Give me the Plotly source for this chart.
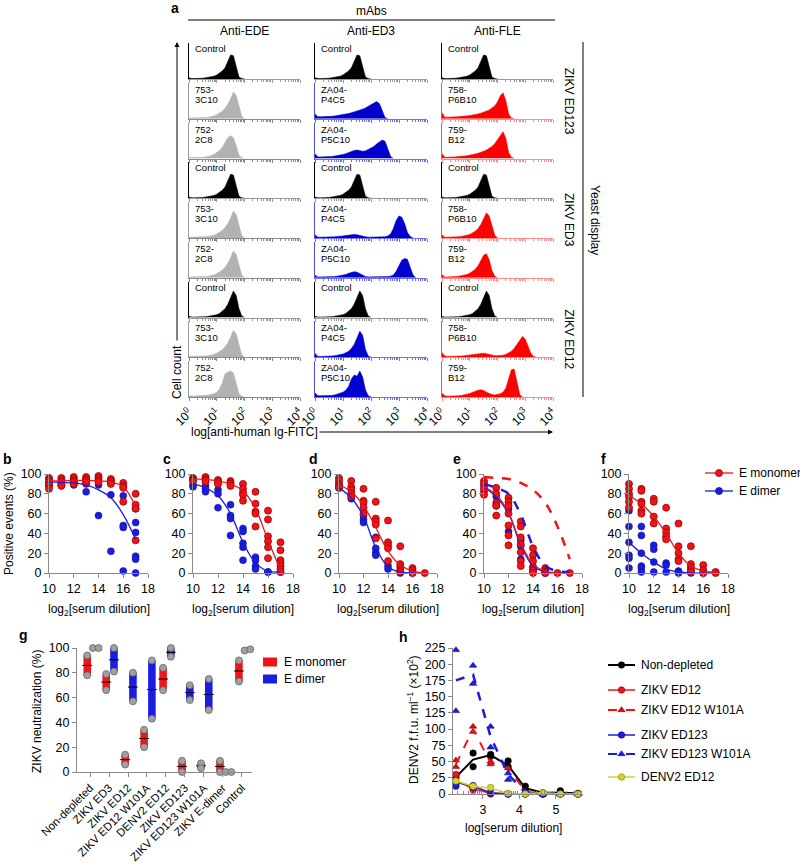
import math
import plotly.graph_objects as go

# ── canvas ────────────────────────────────────────────────────────────────────
W, H = 800, 866
FONT = "Liberation Sans, Arial, Helvetica, sans-serif"
AX = "#8a8a8a"
BASE_SIZE = 12

RED, RED_EDGE = "#f01418", "#9a0000"
BLUE, BLUE_EDGE = "#1c1ce0", "#0c0c90"
YELLOW, YELLOW_EDGE = "#d2d22a", "#8a8a00"

# ── panel a: flow histograms (log10 bins 0.0 .. 4.0) ─────────────────────────
LOG_BINS = [0.0, 0.1, 0.2, 0.3, 0.4, 0.5, 0.6, 0.7, 0.8, 0.9,
            1.0, 1.1, 1.2, 1.3, 1.4, 1.5, 1.6, 1.7, 1.8, 1.9,
            2.0, 2.1, 2.2, 2.3, 2.4, 2.5, 2.6, 2.7, 2.8, 2.9,
            3.0, 3.1, 3.2, 3.3, 3.4, 3.5, 3.6, 3.7, 3.8, 3.9, 4.0]

CTRL_A = [0.03, 0.01, 0.01, 0.01, 0.02, 0.02, 0.03, 0.04, 0.05, 0.07,
          0.10, 0.14, 0.20, 0.28, 0.42, 0.60, 0.58, 0.30, 0.05, 0.01, 0]
CTRL_B = [0.03, 0.01, 0.01, 0.01, 0.01, 0.02, 0.02, 0.03, 0.04, 0.05,
          0.07, 0.10, 0.15, 0.22, 0.33, 0.50, 0.66, 0.55, 0.22, 0.04, 0]
GRAY_3C10 = [0.02, 0.02, 0.02, 0.02, 0.02, 0.03, 0.03, 0.04, 0.05, 0.07,
             0.10, 0.14, 0.19, 0.26, 0.36, 0.50, 0.67, 0.58, 0.28, 0.06, 0]
GRAY_2C8 = [0.02, 0.02, 0.02, 0.02, 0.03, 0.03, 0.04, 0.05, 0.07, 0.10,
            0.14, 0.20, 0.28, 0.40, 0.52, 0.57, 0.52, 0.32, 0.08, 0.02, 0]
GRAY_2C8_B = [0.03, 0.02, 0.02, 0.03, 0.03, 0.03, 0.04, 0.05, 0.06, 0.08,
              0.12, 0.20, 0.35, 0.58, 0.62, 0.65, 0.60, 0.35, 0.08, 0.02, 0]

BLUE_ED123_P4C5 = [0.12, 0.05, 0.05, 0.05, 0.05, 0.06, 0.06, 0.07, 0.08, 0.09,
                   0.10, 0.11, 0.13, 0.15, 0.17, 0.19, 0.21, 0.24, 0.27, 0.31,
                   0.35, 0.39, 0.43, 0.38, 0.18, 0.03, 0]
BLUE_ED123_P5C10 = [0.12, 0.04, 0.04, 0.04, 0.04, 0.05, 0.05, 0.06, 0.07, 0.08,
                    0.10, 0.12, 0.15, 0.18, 0.20, 0.21, 0.19, 0.18, 0.19, 0.22,
                    0.26, 0.30, 0.36, 0.42, 0.46, 0.43, 0.22, 0.05, 0]
RED_ED123_P6B10 = [0.15, 0.04, 0.04, 0.04, 0.05, 0.05, 0.05, 0.06, 0.06, 0.07,
                   0.08, 0.09, 0.10, 0.12, 0.14, 0.16, 0.19, 0.22, 0.26, 0.32,
                   0.42, 0.57, 0.65, 0.45, 0.12, 0.02, 0]
RED_ED123_B12 = [0.12, 0.03, 0.03, 0.03, 0.04, 0.04, 0.05, 0.05, 0.06, 0.07,
                 0.08, 0.09, 0.11, 0.13, 0.15, 0.18, 0.21, 0.25, 0.30, 0.37,
                 0.47, 0.60, 0.67, 0.50, 0.15, 0.03, 0]

BLUE_ED3_P4C5 = [0.08, 0.02, 0.02, 0.02, 0.02, 0.02, 0.03, 0.03, 0.04, 0.04,
                 0.05, 0.06, 0.07, 0.08, 0.09, 0.08, 0.06, 0.04, 0.03, 0.02,
                 0.02, 0.02, 0.02, 0.02, 0.02, 0.03, 0.05, 0.10, 0.24, 0.44,
                 0.55, 0.52, 0.36, 0.14, 0.04, 0]
BLUE_ED3_P5C10 = [0.06, 0.02, 0.02, 0.02, 0.02, 0.02, 0.03, 0.03, 0.04, 0.05,
                  0.06, 0.08, 0.11, 0.13, 0.15, 0.14, 0.10, 0.06, 0.03, 0.02,
                  0.02, 0.02, 0.02, 0.02, 0.02, 0.02, 0.03, 0.04, 0.07, 0.16,
                  0.32, 0.44, 0.48, 0.46, 0.26, 0.07, 0]
RED_ED3_P6B10 = [0.08, 0.02, 0.02, 0.02, 0.03, 0.03, 0.03, 0.04, 0.05, 0.07,
                 0.09, 0.12, 0.17, 0.24, 0.34, 0.48, 0.63, 0.55, 0.30, 0.07, 0]
RED_ED3_B12 = [0.08, 0.02, 0.02, 0.02, 0.03, 0.03, 0.04, 0.05, 0.06, 0.08,
               0.11, 0.15, 0.21, 0.30, 0.42, 0.56, 0.60, 0.45, 0.18, 0.04, 0]

BLUE_ED12_P4C5 = [0.10, 0.02, 0.02, 0.02, 0.02, 0.03, 0.03, 0.04, 0.05, 0.06,
                  0.08, 0.11, 0.15, 0.22, 0.32, 0.48, 0.65, 0.55, 0.20, 0.03, 0]
BLUE_ED12_P5C10 = [0.10, 0.03, 0.03, 0.03, 0.03, 0.04, 0.04, 0.05, 0.07, 0.09,
                   0.12, 0.17, 0.26, 0.45, 0.55, 0.52, 0.65, 0.50, 0.18, 0.03, 0]
RED_ED12_P6B10 = [0.12, 0.03, 0.02, 0.02, 0.02, 0.02, 0.03, 0.03, 0.04, 0.05,
                  0.06, 0.07, 0.08, 0.09, 0.10, 0.10, 0.09, 0.07, 0.05, 0.04,
                  0.04, 0.04, 0.05, 0.07, 0.10, 0.15, 0.22, 0.32, 0.44, 0.52,
                  0.45, 0.28, 0.10, 0.02, 0]
RED_ED12_B12 = [0.10, 0.03, 0.02, 0.02, 0.02, 0.03, 0.03, 0.04, 0.05, 0.07,
                0.09, 0.12, 0.15, 0.17, 0.18, 0.16, 0.12, 0.08, 0.06, 0.05,
                0.06, 0.08, 0.12, 0.22, 0.45, 0.68, 0.70, 0.35, 0.06, 0]

HIST_GRID = [
    [CTRL_A, CTRL_A, CTRL_A],
    [GRAY_3C10, BLUE_ED123_P4C5, RED_ED123_P6B10],
    [GRAY_2C8, BLUE_ED123_P5C10, RED_ED123_B12],
    [CTRL_A, CTRL_A, CTRL_A],
    [GRAY_3C10, BLUE_ED3_P4C5, RED_ED3_P6B10],
    [GRAY_3C10, BLUE_ED3_P5C10, RED_ED3_B12],
    [CTRL_B, CTRL_B, CTRL_B],
    [GRAY_3C10, BLUE_ED12_P4C5, RED_ED12_P6B10],
    [GRAY_2C8_B, BLUE_ED12_P5C10, RED_ED12_B12],
]
COL_HEADERS = ["Anti-EDE", "Anti-ED3", "Anti-FLE"]
MAB_LABELS = [
    ["Control", "Control", "Control"],
    ["753-|3C10", "ZA04-|P4C5", "758-|P6B10"],
    ["752-|2C8", "ZA04-|P5C10", "759-|B12"],
]
COL_KINDS = ["gray", "blue", "red"]
GROUP_LABELS = ["ZIKV ED123", "ZIKV ED3", "ZIKV ED12"]
DECADE_LABELS = ["10<sup>0</sup>", "10<sup>1</sup>", "10<sup>2</sup>",
                 "10<sup>3</sup>", "10<sup>4</sup>"]

# ── panels b–f: % positive events vs log2 serum dilution ─────────────────────
DILUTION = [10, 11, 12, 13, 14, 15, 16, 17]

B_RED = [[96, 94, 92, 89, 85], [96, 94, 92, 89, 88], [97, 95, 93, 92, 90],
         [97, 95, 93, 91], [98, 96, 94, 92], [95, 93, 91, 90],
         [91, 88, 86, 72], [80, 69, 65, 33]]
B_BLUE = [[90, 88], [91, 89], [91, 89], [90, 82], [89, 58], [79, 22],
          [78, 48, 46, 2], [65, 51, 41, 17, 14, 0]]
B_RED_FIT = [93, 93, 93.5, 93.5, 93, 92, 87, 67]
B_BLUE_FIT = [92, 91.5, 91, 89, 84, 76, 59, 34]

C_RED = [[96, 95, 94, 93], [97, 95, 94, 92], [94, 92, 90], [93, 91, 90, 88],
         [90, 85, 81, 79, 73], [82, 70, 62, 60, 47], [63, 54, 37, 32, 26, 15],
         [31, 23, 13, 10, 7, 4, 1]]
C_BLUE = [[89, 87], [88, 85, 82], [84, 80, 66], [69, 58, 55, 38],
          [45, 42, 30, 26, 13], [16, 13, 7, 4], [1, 1], [1]]
C_RED_FIT = [95, 94.5, 93, 90, 83, 65, 33, 3]
C_BLUE_FIT = [90, 86, 78, 60, 31, 10, 2, 1]

D_RED = [[96, 93, 90, 88, 86], [93, 87, 84, 80, 77], [85, 73, 71, 66, 60],
         [72, 55, 52, 49, 35], [53, 31, 28, 25, 12], [27, 9, 6, 3, 1],
         [5, 3, 0], [0]]
D_BLUE = [[88, 86], [78, 75], [58, 54, 51], [36, 25, 21, 18], [7, 4], [0],
          [0], []]
D_RED_FIT = [89, 82, 68, 46, 22, 8, 2, 0]
D_BLUE_FIT = [86, 76, 57, 26, 6, 1, 0, 0]

E_RED = [[93, 90, 85, 79], [86, 80, 71, 68, 58], [76, 72, 68, 60, 48, 38, 28],
         [52, 47, 36, 29, 21, 12, 7], [25, 18, 12, 6, 3, 0], [5, 3, 1, 0],
         [0], [0]]
E_BLUE = [[88, 82], [77, 68], [65, 42], [33, 27, 14], [6, 2], [0], [], []]
E_RED_FIT = [87, 79, 61, 30, 9, 2, 0, 0]
E_BLUE_FIT = [87, 77, 60, 28, 7, 1, 0, 0]
E_RED_DASH = [97, 96, 95, 91, 84, 71, 47, 14]
E_BLUE_DASH = [90, 86, 80, 59, 27, 7, 2, 1]

F_RED = [[90, 85, 80, 77, 72, 66], [85, 83, 72, 70, 63, 60], [75, 72, 57, 50],
         [66, 45, 41, 37, 34], [50, 27, 20, 14, 12], [27, 9, 6, 3, 1],
         [8, 3, 0], [1, 0]]
F_BLUE = [[63, 47, 31, 18, 15, 5], [47, 38, 20, 7, 5, 1], [28, 24, 11, 1],
          [10, 8, 1], [2, 1, 0], [0], [0], []]
F_RED_FIT = [78, 70, 57, 40, 20, 7, 2, 1]
F_BLUE_FIT = [31, 20, 11, 4, 1, 0, 0, 0]

# ── panel g: ZIKV neutralization after depletion ─────────────────────────────
G_CATS = ["Non-depleted", "ZIKV ED3", "ZIKV ED12", "ZIKV ED12 W101A",
          "DENV2 ED12", "ZIKV ED123", "ZIKV ED123 W101A", "ZIKV E-dimer",
          "Control"]
G_MONO_HI = [94, 79, 14, 34, 84, 9, 7, 9, 90]
G_MONO_LO = [78, 66, 6, 20, 66, 0, 3, 0, 73]
G_MONO_MEAN = [86, 72.5, 10, 27, 75, 4.5, 5, 4.5, 81.5]
G_DIM_HI = [100, 100, 80, 90, 100, 70, 75, 0, 99]
G_DIM_LO = [100, 81, 57, 43, 93, 58, 50, 0, 98]
G_DIM_MEAN = [100, 90.5, 68.5, 66.5, 96.5, 64, 62.5, 0, 98.5]
G_DIM_BAR = [False, True, True, True, True, True, True, False, False]

# ── panel h: DENV2 foci vs log serum dilution ────────────────────────────────
H_X = [2.26, 2.73, 3.21, 3.69, 4.16, 4.64, 5.12, 5.60]
ND_MEAN = [26, 53, 60, 44, 9, 2, 2, 1]
ND_REP_A = [25, 63, 61, 51, 12, 2, 5, 1]
ND_REP_B = [28, 42, 58, 42, 6, 1, 2, 0]
ED12_MEAN = [21, 8, 1, 0, 0, 0, 0, 0]
ED12_REP_A = [30, 6, 1, 0, 0, 0, 0, 0]
ED12_REP_B = [15, 9, 0, 0, 0, 0, 0, 0]
ED12W_MEAN = [46, 100, 48, 40, 4, 0, 0, 0]
ED12W_REP_A = [52, 104, 50, 40, 3, 0, 0, 0]
ED12W_REP_B = [42, 96, 46, None, 4, 0, None, None]
ED123_MEAN = [18, 12, 2, 0, 0, 0, 0, 0]
ED123_REP_A = [18, 13, 3, 0, 0, 0, 0, 0]
ED123_REP_B = [12, 10, 1, 0, 0, 0, 0, 0]
ED123W_MEAN = [175, 184, 88, 30, 3, 0, 0, 0]
ED123W_REP_A = [222, 198, 104, 32, 3, 0, 0, 0]
ED123W_REP_B = [128, 170, 72, 22, 2, 0, 0, 0]
DENV_MEAN = [20, 12, 9, 1, 0, 2, 0, 0]
DENV_REP = [20, 12, 10, 1, 0, 2, 0, 0]


# ─────────────────────────────────────────────────────────────────────────────
# helpers
# ─────────────────────────────────────────────────────────────────────────────
fig = go.Figure()
axes_layout = {}
annotations = []
shapes = []
_n_axes = [0]


def px_x(x):
    return x / W


def px_y(y):
    return 1 - y / H


def add_axes(x0, x1, y_top, y_bot, xa, ya):
    _n_axes[0] += 1
    s = "" if _n_axes[0] == 1 else str(_n_axes[0])
    axes_layout["xaxis" + s] = dict(domain=[px_x(x0), px_x(x1)], anchor="y" + s,
                                    automargin=False, **xa)
    axes_layout["yaxis" + s] = dict(domain=[px_y(y_bot), px_y(y_top)], anchor="x" + s,
                                    automargin=False, **ya)
    return "x" + s, "y" + s


def text(x, y, s, size=BASE_SIZE, xanchor="center", angle=0, bold=False, color="black"):
    annotations.append(dict(
        x=px_x(x), y=px_y(y), xref="paper", yref="paper", text=s,
        showarrow=False, xanchor=xanchor, yanchor="middle", textangle=angle,
        font=dict(family=FONT, size=size, color=color,
                  weight="bold" if bold else "normal")))


def line(x0, y0, x1, y1, color="black", width=1):
    shapes.append(dict(type="line", xref="paper", yref="paper",
                       x0=px_x(x0), y0=px_y(y0), x1=px_x(x1), y1=px_y(y1),
                       line=dict(color=color, width=width)))


def arrow(x, y, ax, ay):
    annotations.append(dict(x=px_x(x), y=px_y(y), xref="paper", yref="paper",
                            ax=ax, ay=ay, text="", showarrow=True, arrowhead=2,
                            arrowsize=1, arrowwidth=1, arrowcolor="black"))


# ─────────────────────────────────────────────────────────────────────────────
# panel a
# ─────────────────────────────────────────────────────────────────────────────
HIST_COLS = [(189, 300), (315, 427), (442, 553)]
ROW_BASE0, ROW_STEP = 79, 39.75
KIND_STYLE = {"ctrl": ("#000000", "#9a9a9a", "#000000"),
              "gray": ("#b2b2b2", "#8a8a8a", "#9a9a9a"),
              "blue": ("#0000cc", "#7070ee", "#5050e0"),
              "red": ("#ff0000", "#ff8c8c", "#ff5050")}
MINOR_TICKS = [d + math.log10(k) for d in range(4) for k in range(2, 10)]

for r, row in enumerate(HIST_GRID):
    base = ROW_BASE0 + r * ROW_STEP
    bottom = r == len(HIST_GRID) - 1
    for c, vals in enumerate(row):
        kind = "ctrl" if r % 3 == 0 else COL_KINDS[c]
        fill_c, base_c, left_c = KIND_STYLE[kind]
        x0, x1 = HIST_COLS[c]
        xa = dict(range=[0, 4], showgrid=False, zeroline=False, showline=True,
                  linecolor=base_c, linewidth=1, tickvals=[0, 1, 2, 3, 4],
                  ticktext=DECADE_LABELS, ticks="outside", ticklen=3,
                  tickcolor=base_c, showticklabels=bottom, tickangle=-45,
                  tickfont=dict(family=FONT, size=12, color="black"),
                  minor=dict(tickmode="array", tickvals=MINOR_TICKS,
                             ticks="outside", ticklen=2, tickcolor=base_c))
        ya = dict(range=[0, 0.9], showgrid=False, zeroline=False,
                  showline=True, linecolor=left_c, linewidth=1,
                  showticklabels=False, ticks="")
        xr, yr = add_axes(x0, x1, base - 36, base, xa, ya)
        fig.add_trace(go.Scatter(
            x=LOG_BINS[:len(vals)], y=vals, mode="lines", fill="tozeroy",
            line=dict(color=fill_c, width=0.6), fillcolor=fill_c,
            xaxis=xr, yaxis=yr, showlegend=False, hoverinfo="skip"))

        label = MAB_LABELS[r % 3][c]
        if "|" in label:
            first, second = label.split("|")
            text(x0 + 4, base - 29.5, first, size=9.5, xanchor="left")
            text(x0 + 4, base - 19.5, second, size=9.5, xanchor="left")
        else:
            text(x0 + 4, base - 30.5, label, size=9.5, xanchor="left")

text(175, 8, "a", size=14, bold=True)
text(371, 11, "mAbs")
line(188, 20, 555, 20)
for c, head in enumerate(COL_HEADERS):
    text((HIST_COLS[c][0] + HIST_COLS[c][1]) / 2, 31, head)
for g, lab in enumerate(GROUP_LABELS):
    text(569, ROW_BASE0 + (3 * g + 1) * ROW_STEP - 18, lab, angle=90)
line(583, 42, 583, 397)
text(595, 220, "Yeast display", angle=90)
arrow(177, 42, 0, 300)
text(177, 372, "Cell count", angle=-90)
text(189, 432, "log[anti-human Ig-FITC]", xanchor="left")
arrow(553, 432, -235, 0)

# ─────────────────────────────────────────────────────────────────────────────
# panels b–f
# ─────────────────────────────────────────────────────────────────────────────
CURVE_PANELS = [
    ("b", 49, 148, 7, B_RED, B_BLUE, B_RED_FIT, B_BLUE_FIT, None, None),
    ("c", 193, 293, 167, C_RED, C_BLUE, C_RED_FIT, C_BLUE_FIT, None, None),
    ("d", 339, 437, 313, D_RED, D_BLUE, D_RED_FIT, D_BLUE_FIT, None, None),
    ("e", 484, 582, 457, E_RED, E_BLUE, E_RED_FIT, E_BLUE_FIT, E_RED_DASH, E_BLUE_DASH),
    ("f", 629, 728, 603, F_RED, F_BLUE, F_RED_FIT, F_BLUE_FIT, None, None),
]
TICKFONT = dict(family=FONT, size=12.5, color="black")


def std_axis(**kw):
    d = dict(showgrid=False, zeroline=False, showline=True, linecolor=AX,
             linewidth=1, ticks="outside", ticklen=4, tickcolor=AX,
             tickfont=TICKFONT)
    d.update(kw)
    return d


def flatten(groups):
    xs, ys = [], []
    for xv, vals in zip(DILUTION, groups):
        for v in vals:
            xs.append(xv)
            ys.append(v)
    return xs, ys


for (letter, x0, x1, lx, reds, blues, red_fit, blue_fit,
     red_dash, blue_dash) in CURVE_PANELS:
    xr, yr = add_axes(
        x0, x1, 474, 573,
        std_axis(range=[10, 18], tickvals=[10, 12, 14, 16, 18]),
        std_axis(range=[0, 100], tickvals=[0, 20, 40, 60, 80, 100]))
    bx, by = flatten(blues)
    rx, ry = flatten(reds)
    fig.add_trace(go.Scatter(x=bx, y=by, mode="markers", xaxis=xr, yaxis=yr,
                             marker=dict(size=7, color=BLUE,
                                         line=dict(color=BLUE_EDGE, width=0.5)),
                             cliponaxis=False, showlegend=False))
    fig.add_trace(go.Scatter(x=rx, y=ry, mode="markers", xaxis=xr, yaxis=yr,
                             marker=dict(size=7, color=RED,
                                         line=dict(color=RED_EDGE, width=0.8)),
                             cliponaxis=False, showlegend=False))
    fits = [(blue_fit, BLUE, "solid", 1.3), (red_fit, RED, "solid", 1.3)]
    if blue_dash:
        fits += [(blue_dash, BLUE, "dash", 2.5), (red_dash, RED, "dash", 2.5)]
    for vals, col, dash, wd in fits:
        fig.add_trace(go.Scatter(x=DILUTION, y=vals, mode="lines", xaxis=xr,
                                 yaxis=yr, line=dict(color=col, width=wd,
                                                     dash=dash, shape="spline"),
                                 cliponaxis=False, showlegend=False))
    text(lx, 459, letter, size=14, bold=True)
    text((x0 + x1) / 2, 610, "log<sub>2</sub>[serum dilution]")

text(9, 524, "Positive events (%)", angle=-90)

# ─────────────────────────────────────────────────────────────────────────────
# panel g
# ─────────────────────────────────────────────────────────────────────────────
G_RED_OFF, G_BLUE_OFF, G_BAR_W = -0.15, 0.26, 0.4
G_DOT_OFFS = [0.15, 0.45]
xr, yr = add_axes(
    77, 252, 648, 772,
    std_axis(range=[-0.69, 8.54], tickvals=list(range(len(G_CATS))),
             ticktext=G_CATS, tickangle=-45,
             tickfont=dict(family=FONT, size=11.3, color="black")),
    std_axis(range=[0, 100], tickvals=[0, 20, 40, 60, 80, 100]))

idx = list(range(len(G_CATS)))
mono_x = [i + G_RED_OFF for i in idx]
fig.add_trace(go.Bar(x=mono_x, y=[h - l for h, l in zip(G_MONO_HI, G_MONO_LO)],
                     base=G_MONO_LO, width=G_BAR_W, marker=dict(color=RED, line_width=0),
                     xaxis=xr, yaxis=yr, showlegend=False))
bar_i = [i for i in idx if G_DIM_BAR[i]]
dim_x = [i + G_BLUE_OFF for i in bar_i]
fig.add_trace(go.Bar(x=dim_x, y=[G_DIM_HI[i] - G_DIM_LO[i] for i in bar_i],
                     base=[G_DIM_LO[i] for i in bar_i], width=G_BAR_W,
                     marker=dict(color=BLUE, line_width=0),
                     xaxis=xr, yaxis=yr, showlegend=False))
fig.add_trace(go.Scatter(x=mono_x + dim_x,
                         y=G_MONO_MEAN + [G_DIM_MEAN[i] for i in bar_i],
                         mode="markers", xaxis=xr, yaxis=yr, showlegend=False,
                         marker=dict(symbol="line-ew", size=7, color="black",
                                     line=dict(color="black", width=1))))
dot_x, dot_y = [], []
for i in idx:
    dot_x += [mono_x[i], mono_x[i]]
    dot_y += [G_MONO_HI[i], G_MONO_LO[i]]
    if G_DIM_BAR[i]:
        dot_x += [i + G_BLUE_OFF, i + G_BLUE_OFF]
        dot_y += [G_DIM_HI[i], G_DIM_LO[i]]
    else:
        dot_x += [i + G_DOT_OFFS[0], i + G_DOT_OFFS[1]]
        dot_y += [G_DIM_LO[i], G_DIM_HI[i]]
fig.add_trace(go.Scatter(x=dot_x, y=dot_y, mode="markers", xaxis=xr, yaxis=yr,
                         cliponaxis=False, showlegend=False,
                         marker=dict(size=7, color="#a0a0a0",
                                     line=dict(color="#5a5a5a", width=0.7))))
text(23, 635, "g", size=14, bold=True)
text(37, 712, "ZIKV neutralization (%)", angle=-90)
for yy, col, name in [(662, RED, "E monomer"), (679, BLUE, "E dimer")]:
    shapes.append(dict(type="rect", xref="paper", yref="paper",
                       x0=px_x(263), x1=px_x(277), y0=px_y(yy + 4.5), y1=px_y(yy - 4.5),
                       fillcolor=col, line=dict(width=0)))
    text(282, yy, name, xanchor="left")

# ─────────────────────────────────────────────────────────────────────────────
# panel h
# ─────────────────────────────────────────────────────────────────────────────
H_MINOR = [d + math.log10(k) for d in range(2, 6) for k in range(2, 10)]
xr, yr = add_axes(
    453, 583, 648, 794,
    std_axis(range=[2.18, 5.74], tickvals=[3, 4, 5],
             minor=dict(tickmode="array", tickvals=H_MINOR, ticks="inside",
                        ticklen=3, tickcolor=AX)),
    std_axis(range=[0, 225], tickvals=list(range(0, 226, 25))))

H_SERIES = [
    ("Non-depleted", ND_MEAN, [ND_REP_A, ND_REP_B], "black", "black", "black", "solid", 2, "circle"),
    ("ZIKV ED12", ED12_MEAN, [ED12_REP_A, ED12_REP_B], RED, RED, RED_EDGE, "solid", 1.5, "circle"),
    ("ZIKV ED12 W101A", ED12W_MEAN, [ED12W_REP_A, ED12W_REP_B], RED, "#d01010", RED_EDGE, "dash", 2, "triangle-up"),
    ("ZIKV ED123", ED123_MEAN, [ED123_REP_A, ED123_REP_B], BLUE, BLUE, BLUE_EDGE, "solid", 1.5, "circle"),
    ("ZIKV ED123 W101A", ED123W_MEAN, [ED123W_REP_A, ED123W_REP_B], BLUE, BLUE, BLUE_EDGE, "dash", 2.5, "triangle-up"),
    ("DENV2 ED12", DENV_MEAN, [DENV_REP], YELLOW, YELLOW, YELLOW_EDGE, "solid", 1.5, "circle"),
]
for name, mean, reps, lc, mc, me, dash, wd, sym in H_SERIES:
    for rep in reps:
        fig.add_trace(go.Scatter(x=H_X, y=rep, mode="markers", xaxis=xr, yaxis=yr,
                                 cliponaxis=False, showlegend=False,
                                 marker=dict(size=6.5, symbol=sym, color=mc,
                                             line=dict(color=me, width=0.6))))
    fig.add_trace(go.Scatter(x=H_X, y=mean, mode="lines", xaxis=xr, yaxis=yr,
                             cliponaxis=False, showlegend=False,
                             line=dict(color=lc, width=wd, dash=dash)))

text(403, 637, "h", size=14, bold=True)
text(413, 720, "DENV2 f.f.u. ml<sup>−1</sup> (×10<sup>2</sup>)", angle=-90)
text(513, 828, "log[serum dilution]")

# ─────────────────────────────────────────────────────────────────────────────
# legends for f and h: glyphs on a pixel-space overlay
# ─────────────────────────────────────────────────────────────────────────────
lx_ref, ly_ref = add_axes(0, W, 0, H, dict(range=[0, W], visible=False),
                          dict(range=[H, 0], visible=False))

F_LEGEND = [("E monomer", 473, RED, RED_EDGE), ("E dimer", 491, BLUE, BLUE_EDGE)]
for name, yy, col, edge in F_LEGEND:
    fig.add_trace(go.Scatter(x=[705, 733], y=[yy, yy], mode="lines",
                             line=dict(color=col, width=1.3),
                             xaxis=lx_ref, yaxis=ly_ref, showlegend=False))
    fig.add_trace(go.Scatter(x=[719], y=[yy], mode="markers",
                             marker=dict(size=7, color=col, line=dict(color=edge, width=0.8)),
                             xaxis=lx_ref, yaxis=ly_ref, showlegend=False))
    text(737, yy, name, xanchor="left")

H_LEGEND_Y = [665, 690, 710, 735, 754, 777]
for (name, mean, reps, lc, mc, me, dash, wd, sym), yy in zip(H_SERIES, H_LEGEND_Y):
    fig.add_trace(go.Scatter(x=[608, 635], y=[yy, yy], mode="lines",
                             line=dict(color=lc, width=min(wd, 2), dash=dash),
                             xaxis=lx_ref, yaxis=ly_ref, showlegend=False))
    fig.add_trace(go.Scatter(x=[621.5], y=[yy], mode="markers",
                             marker=dict(size=6.5, symbol=sym, color=mc,
                                         line=dict(color=me, width=0.6)),
                             xaxis=lx_ref, yaxis=ly_ref, showlegend=False))
    text(639, yy, name, xanchor="left")

# ─────────────────────────────────────────────────────────────────────────────
fig.update_layout(
    width=W, height=H, autosize=False,
    margin=dict(l=0, r=0, t=0, b=0, autoexpand=False),
    paper_bgcolor="white", plot_bgcolor="rgba(0,0,0,0)",
    font=dict(family=FONT, size=BASE_SIZE, color="black"),
    barmode="overlay", showlegend=False,
    annotations=annotations, shapes=shapes,
    **axes_layout,
)

# the page body has an 8px default margin; drop it so the figure fills the window
fig.write_html("out.html", config={"displayModeBar": False},
               post_script="document.body.style.margin='0';"
                           "document.body.style.overflow='hidden';")
